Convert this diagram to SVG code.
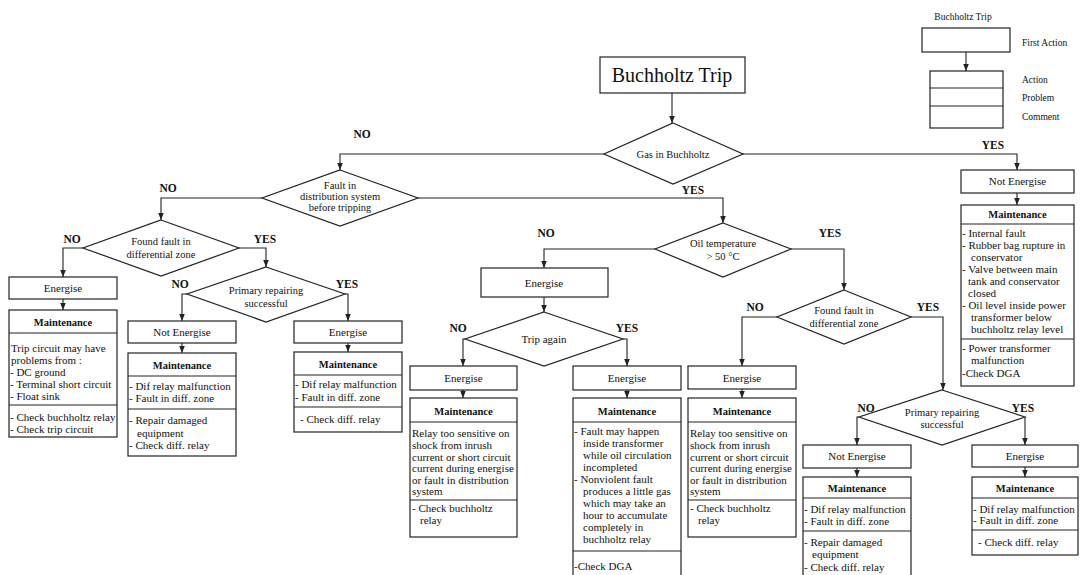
<svg xmlns="http://www.w3.org/2000/svg" width="1085" height="575" viewBox="0 0 1085 575">
<style>
.bg{fill:#fff}
.box{fill:#fff;stroke:#222;stroke-width:1.2}
.dv{fill:none;stroke:#222;stroke-width:1.1}
.ln{fill:none;stroke:#222;stroke-width:1.1;marker-end:url(#ah)}
text{font-family:"Liberation Serif","Times New Roman",serif;fill:#111}
.t{font-size:11px}
.c{text-anchor:middle}
.h{font-size:10.5px;font-weight:bold;text-anchor:middle}
.d{font-size:10.5px;text-anchor:middle}
.lb{font-size:11.5px;font-weight:bold;text-anchor:middle}
.lg{font-size:9.5px}
.ttl{font-size:20px;text-anchor:middle}
</style>
<defs>
<marker id="ah" viewBox="0 0 10 10" refX="10" refY="5" markerWidth="7" markerHeight="7" orient="auto" markerUnits="userSpaceOnUse"><path d="M0,1 L10,5 L0,9 z" fill="#222"/></marker>
</defs>
<rect class="bg" x="0" y="0" width="1085" height="575"/>

<g id="connectors">
<path class="ln" d="M672,93 V123"/>
<path class="ln" d="M604,154 H340 V170"/>
<path class="ln" d="M743,154 H1017 V170"/>
<path class="ln" d="M1017,193 V205"/>
<path class="ln" d="M262,198 H161 V220"/>
<path class="ln" d="M418,198 H723 V223"/>
<path class="ln" d="M83,248 H63 V277"/>
<path class="ln" d="M239,248 H266 V267"/>
<path class="ln" d="M63,299 V310"/>
<path class="ln" d="M187,294 H182 V321"/>
<path class="ln" d="M345,294 H348 V321"/>
<path class="ln" d="M182,343 V353"/>
<path class="ln" d="M348,343 V352"/>
<path class="ln" d="M655,249 H544 V268"/>
<path class="ln" d="M791,249 H844 V290"/>
<path class="ln" d="M544,297 V312"/>
<path class="ln" d="M465,339 H463 V366"/>
<path class="ln" d="M623,339 H627 V366"/>
<path class="ln" d="M463,390 V398"/>
<path class="ln" d="M627,390 V398"/>
<path class="ln" d="M777,317 H742 V366"/>
<path class="ln" d="M911,317 H943 V390"/>
<path class="ln" d="M742,389 V398"/>
<path class="ln" d="M859,417 H857 V445"/>
<path class="ln" d="M1025,417 V445"/>
<path class="ln" d="M857,468 V477"/>
<path class="ln" d="M1025,467 V477"/>
<path class="ln" d="M966,52 V71"/>
</g>

<g id="labels">
<text class="lb" x="362" y="138">NO</text>
<text class="lb" x="993" y="149">YES</text>
<text class="lb" x="693" y="194">YES</text>
<text class="lb" x="168" y="192">NO</text>
<text class="lb" x="72" y="243">NO</text>
<text class="lb" x="265" y="243">YES</text>
<text class="lb" x="180" y="288">NO</text>
<text class="lb" x="347" y="288">YES</text>
<text class="lb" x="546" y="237">NO</text>
<text class="lb" x="830" y="237">YES</text>
<text class="lb" x="458" y="332">NO</text>
<text class="lb" x="627" y="332">YES</text>
<text class="lb" x="755" y="311">NO</text>
<text class="lb" x="928" y="311">YES</text>
<text class="lb" x="866" y="412">NO</text>
<text class="lb" x="1023" y="412">YES</text>
</g>

<g id="legend">
<text class="lg" x="963" y="20" text-anchor="middle">Buchholtz Trip</text>
<rect class="box" x="922" y="28" width="88" height="24"/>
<text class="lg" x="1022" y="46">First Action</text>
<rect class="box" x="930" y="71" width="73" height="57"/>
<path class="dv" d="M930,88 H1003 M930,106 H1003"/>
<text class="lg" x="1022" y="83">Action</text>
<text class="lg" x="1022" y="101">Problem</text>
<text class="lg" x="1022" y="120">Comment</text>
</g>

<g id="start">
<rect class="box" x="600" y="57" width="145" height="36"/>
<text class="ttl" x="672" y="82">Buchholtz Trip</text>
</g>

<g id="gas">
<polygon class="box" points="673,123 743,154 673,184 604,154"/>
<text class="d" x="673" y="158">Gas in Buchholtz</text>
</g>

<g id="fault-dist">
<polygon class="box" points="340,170 418,198 340,226 262,198"/>
<text class="d" x="340" y="188.5">Fault in</text>
<text class="d" x="340" y="199.5">distribution system</text>
<text class="d" x="340" y="210.5">before tripping</text>
</g>

<g id="found1">
<polygon class="box" points="161,220 239,248 161,276 83,248"/>
<text class="d" x="161" y="245">Found fault in</text>
<text class="d" x="161" y="257.5">differential zone</text>
</g>

<g id="energise-a">
<rect class="box" x="9" y="277" width="108" height="22"/>
<text class="t c" x="63" y="292">Energise</text>
</g>
<g id="maint-a">
<rect class="box" x="9" y="310" width="108" height="127"/>
<path class="dv" d="M9,333 H117 M9,405 H117"/>
<text class="h" x="63" y="326">Maintenance</text>
<text class="t" x="11" y="352">Trip circuit may have</text>
<text class="t" x="11" y="364">problems from :</text>
<text class="t" x="10" y="376">- DC ground</text>
<text class="t" x="10" y="388">- Terminal short circuit</text>
<text class="t" x="10" y="400">- Float sink</text>
<text class="t" x="10" y="421">- Check buchholtz relay</text>
<text class="t" x="10" y="433">- Check trip circuit</text>
</g>

<g id="primary1">
<polygon class="box" points="266,267 345,294 266,322 187,294"/>
<text class="d" x="266" y="294">Primary repairing</text>
<text class="d" x="266" y="306.5">successful</text>
</g>

<g id="notenergise-b">
<rect class="box" x="128" y="321" width="108" height="22"/>
<text class="t c" x="182" y="336">Not Energise</text>
</g>
<g id="maint-b">
<rect class="box" x="128" y="353" width="108" height="103"/>
<path class="dv" d="M128,376 H236 M128,409 H236"/>
<text class="h" x="182" y="369">Maintenance</text>
<text class="t" x="129" y="390">- Dif relay malfunction</text>
<text class="t" x="129" y="402">- Fault in diff. zone</text>
<text class="t" x="129" y="424">- Repair damaged</text>
<text class="t" x="137" y="437">equipment</text>
<text class="t" x="129" y="449">- Check diff. relay</text>
</g>

<g id="energise-c">
<rect class="box" x="294" y="321" width="108" height="22"/>
<text class="t c" x="348" y="336">Energise</text>
</g>
<g id="maint-c">
<rect class="box" x="294" y="352" width="108" height="80"/>
<path class="dv" d="M294,375 H402 M294,407 H402"/>
<text class="h" x="348" y="368">Maintenance</text>
<text class="t" x="295" y="388">- Dif relay malfunction</text>
<text class="t" x="295" y="401">- Fault in diff. zone</text>
<text class="t" x="300" y="423">- Check diff. relay</text>
</g>

<g id="oil">
<polygon class="box" points="723,223 791,249 723,277 655,249"/>
<text class="d" x="723" y="246.5">Oil temperature</text>
<text class="d" x="723" y="259.5">&gt; 50 °C</text>
</g>

<g id="energise-oil">
<rect class="box" x="481" y="268" width="127" height="29"/>
<text class="t c" x="544" y="287">Energise</text>
</g>

<g id="trip-again">
<polygon class="box" points="544,312 623,339 544,366 465,339"/>
<text class="t c" x="544" y="343">Trip again</text>
</g>

<g id="energise-d">
<rect class="box" x="410" y="366" width="107" height="24"/>
<text class="t c" x="463.5" y="382">Energise</text>
</g>
<g id="maint-d">
<rect class="box" x="410" y="398" width="107" height="139"/>
<path class="dv" d="M410,422 H517 M410,500 H517"/>
<text class="h" x="463.5" y="415">Maintenance</text>
<text class="t" x="412" y="437">Relay too sensitive on</text>
<text class="t" x="412" y="449">shock from inrush</text>
<text class="t" x="412" y="460.5">current or short circuit</text>
<text class="t" x="412" y="472">current during energise</text>
<text class="t" x="412" y="483.5">or fault in distribution</text>
<text class="t" x="412" y="495">system</text>
<text class="t" x="412" y="512">- Check buchholtz</text>
<text class="t" x="420" y="524">relay</text>
</g>

<g id="energise-e">
<rect class="box" x="573" y="366" width="108" height="24"/>
<text class="t c" x="627" y="382">Energise</text>
</g>
<g id="maint-e">
<rect class="box" x="573" y="398" width="108" height="185"/>
<path class="dv" d="M573,422 H681 M573,551 H681"/>
<text class="h" x="627" y="415">Maintenance</text>
<text class="t" x="574" y="435">- Fault may happen</text>
<text class="t" x="583" y="447">inside transformer</text>
<text class="t" x="583" y="459">while oil circulation</text>
<text class="t" x="583" y="471">incompleted</text>
<text class="t" x="574" y="483">- Nonviolent fault</text>
<text class="t" x="583" y="495">produces a little gas</text>
<text class="t" x="583" y="507">which may take an</text>
<text class="t" x="583" y="519">hour to accumulate</text>
<text class="t" x="583" y="531">completely in</text>
<text class="t" x="583" y="543">buchholtz relay</text>
<text class="t" x="574" y="570">-Check  DGA</text>
</g>

<g id="found2">
<polygon class="box" points="844,290 911,317 844,344 777,317"/>
<text class="d" x="844" y="314">Found fault in</text>
<text class="d" x="844" y="326.5">differential zone</text>
</g>

<g id="energise-f">
<rect class="box" x="688" y="366" width="108" height="23"/>
<text class="t c" x="742" y="381.5">Energise</text>
</g>
<g id="maint-f">
<rect class="box" x="688" y="398" width="108" height="139"/>
<path class="dv" d="M688,422 H796 M688,500 H796"/>
<text class="h" x="742" y="415">Maintenance</text>
<text class="t" x="690" y="437">Relay too sensitive on</text>
<text class="t" x="690" y="449">shock from inrush</text>
<text class="t" x="690" y="460.5">current or short circuit</text>
<text class="t" x="690" y="472">current during energise</text>
<text class="t" x="690" y="483.5">or fault in distribution</text>
<text class="t" x="690" y="495">system</text>
<text class="t" x="690" y="512">- Check buchholtz</text>
<text class="t" x="698" y="524">relay</text>
</g>

<g id="notenergise-g">
<rect class="box" x="961" y="170" width="113" height="23"/>
<text class="t c" x="1017.5" y="185">Not Energise</text>
</g>
<g id="maint-g">
<rect class="box" x="961" y="205" width="113" height="181"/>
<path class="dv" d="M961,224 H1074 M961,339 H1074"/>
<text class="h" x="1017.5" y="218">Maintenance</text>
<text class="t" x="962" y="237">- Internal fault</text>
<text class="t" x="962" y="249">- Rubber bag rupture in</text>
<text class="t" x="971" y="261">conservator</text>
<text class="t" x="962" y="273">- Valve between main</text>
<text class="t" x="968" y="285">tank and conservator</text>
<text class="t" x="968" y="297">closed</text>
<text class="t" x="962" y="309">- Oil level inside power</text>
<text class="t" x="971" y="321">transformer below</text>
<text class="t" x="971" y="333">buchholtz relay level</text>
<text class="t" x="962" y="351.5">- Power transformer</text>
<text class="t" x="971" y="364">malfunction</text>
<text class="t" x="962" y="376.5">-Check  DGA</text>
</g>

<g id="primary2">
<polygon class="box" points="942,390 1025,417 942,445 859,417"/>
<text class="d" x="942" y="415.5">Primary repairing</text>
<text class="d" x="942" y="427.5">successful</text>
</g>

<g id="notenergise-h">
<rect class="box" x="803" y="445" width="108" height="23"/>
<text class="t c" x="857" y="460">Not Energise</text>
</g>
<g id="maint-h">
<rect class="box" x="803" y="477" width="108" height="110"/>
<path class="dv" d="M803,498 H911 M803,531 H911"/>
<text class="h" x="857" y="492">Maintenance</text>
<text class="t" x="804" y="512.5">- Dif relay malfunction</text>
<text class="t" x="804" y="524.5">- Fault in diff. zone</text>
<text class="t" x="804" y="546">- Repair damaged</text>
<text class="t" x="812" y="558">equipment</text>
<text class="t" x="804" y="571">- Check diff. relay</text>
</g>

<g id="energise-i">
<rect class="box" x="972" y="445" width="106" height="22"/>
<text class="t c" x="1025" y="460">Energise</text>
</g>
<g id="maint-i">
<rect class="box" x="972" y="477" width="106" height="78"/>
<path class="dv" d="M972,498 H1078 M972,530 H1078"/>
<text class="h" x="1025" y="492">Maintenance</text>
<text class="t" x="973" y="512.5">- Dif relay malfunction</text>
<text class="t" x="973" y="524">- Fault in diff. zone</text>
<text class="t" x="978" y="546">- Check diff. relay</text>
</g>
</svg>
